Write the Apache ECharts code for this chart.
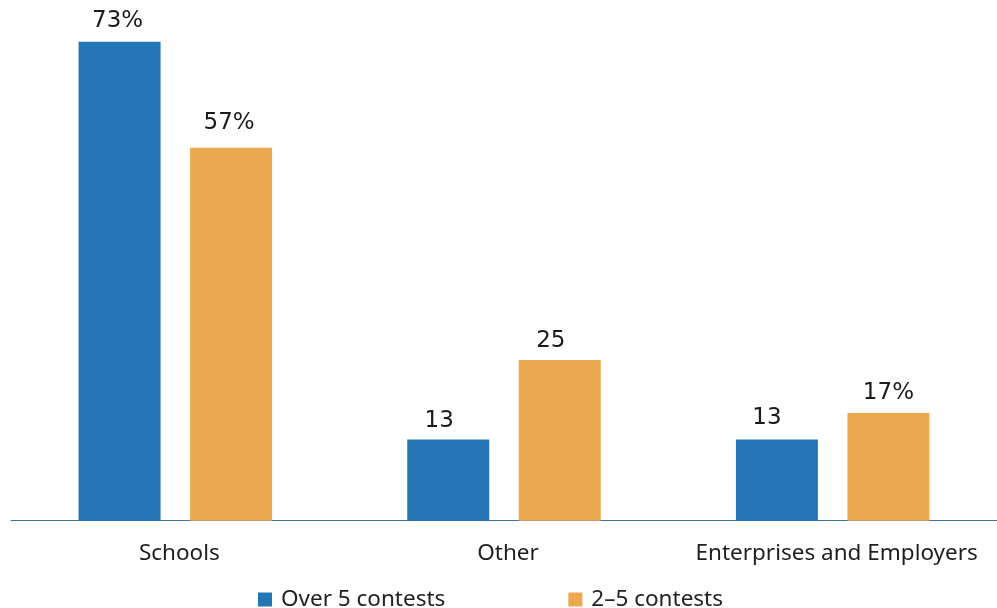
<!DOCTYPE html>
<html>
<head>
<meta charset="utf-8">
<title>Contest participation by organiser type</title>
<script src="https://cdn.jsdelivr.net/npm/echarts@6/dist/echarts.min.js"></script>
<style>
  html, body { margin: 0; padding: 0; background: #ffffff; }
  #chart { width: 997px; height: 608px; }
</style>
</head>
<body>
<div id="chart"></div>
<script>
// Organiser categories along the x axis
const categories = ['Schools', 'Other', 'Enterprises and Employers'];

// Share of respondents (%) per group
const seriesNames = ['Over 5 contests', '2\u20135 contests'];
const over5 = [73, 13, 13];
const twoToFive = [57, 25, 17];

// Text printed above each bar
const over5Labels = ['73%', '13', '13'];
const twoToFiveLabels = ['57%', '25', '17%'];

// Small per-label nudges [dx, dy] so the value texts sit as typeset
const over5LabelShift = [[-2, 0], [-9, 2], [-10, -1]];
const twoToFiveLabelShift = [[-2, -4.5], [-9, 2], [0, 0]];

const blue = '#2475b4';
const orange = '#eba84f';

const chart = echarts.init(document.getElementById('chart'), null, { renderer: 'canvas' });

const valueLabel = (texts) => ({
  show: true,
  position: 'top',
  distance: 9,
  fontFamily: 'DejaVu Sans',
  fontSize: 23,
  color: '#1b1b1b',
  formatter: (p) => texts[p.dataIndex]
});

// Bar data items carrying their own label nudge
const barItems = (values, shifts) =>
  values.map((v, i) => ({ value: v, label: { offset: shifts[i] } }));

chart.setOption({
  animation: false,
  backgroundColor: '#ffffff',
  grid: { left: 11, right: 0, top: 28.4, bottom: 87.3, containLabel: false },
  legend: {
    left: 253,
    top: 583,
    itemWidth: 14,
    itemHeight: 14,
    itemGap: 123,
    icon: 'rect',
    textStyle: { fontFamily: 'Noto Sans', fontSize: 22.5, color: '#222222', padding: [0, 0, 0, 4] },
    data: seriesNames
  },
  xAxis: {
    type: 'category',
    data: categories,
    axisLine: { show: true, lineStyle: { color: '#3d72ab', width: 1.2 } },
    axisTick: { show: false },
    axisLabel: {
      interval: 0,
      hideOverlap: false,
      fontFamily: 'Noto Sans',
      fontSize: 22.5,
      color: '#1e1e1e',
      margin: 21,
      padding: [0, 0, 0, 8]
    }
  },
  yAxis: {
    type: 'value',
    min: 0.77,
    max: 75,
    show: false,
    splitLine: { show: false }
  },
  series: [
    {
      name: seriesNames[0],
      type: 'bar',
      data: barItems(over5, over5LabelShift),
      barWidth: 82,
      barGap: '36%',
      itemStyle: { color: blue },
      label: valueLabel(over5Labels)
    },
    {
      name: seriesNames[1],
      type: 'bar',
      data: barItems(twoToFive, twoToFiveLabelShift),
      barWidth: 82,
      barGap: '36%',
      itemStyle: { color: orange },
      label: valueLabel(twoToFiveLabels)
    }
  ]
});
</script>
</body>
</html>
